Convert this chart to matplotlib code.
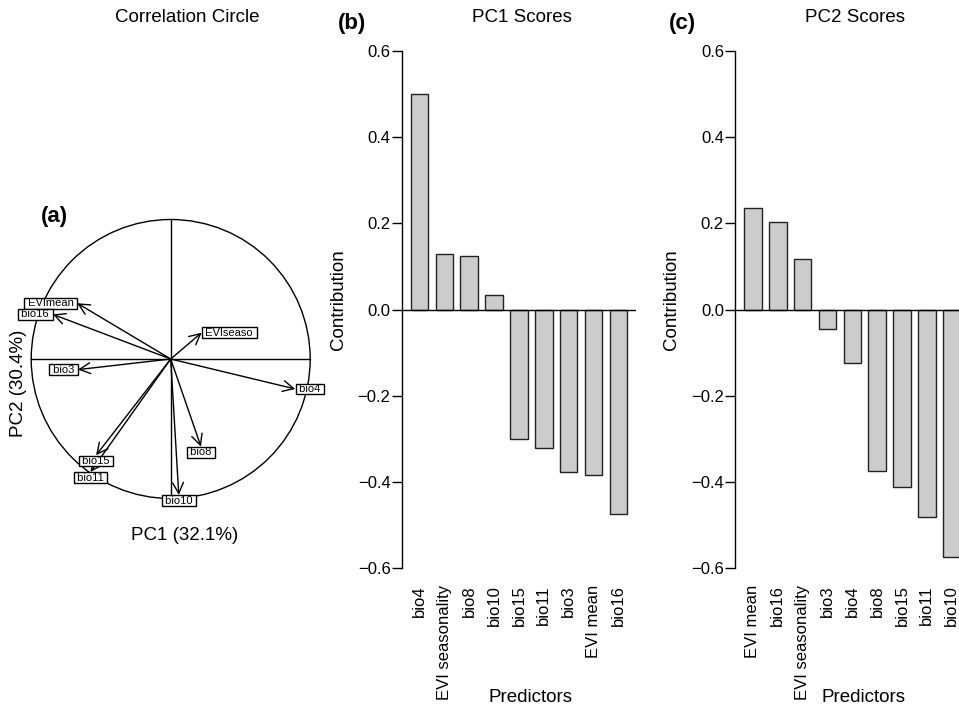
import numpy as np
import matplotlib
matplotlib.use('Agg')
import matplotlib.pyplot as plt
from matplotlib.patches import Circle


###################################
# Data
###################################

# correlation of each predictor with PC1 / PC2 (correlation circle)
circle_vars = ['EVImean', 'bio16', 'EVIseaso', 'bio3', 'bio4', 'bio8', 'bio10', 'bio15', 'bio11']
circle_pc1 = [-0.670, -0.845, 0.222, -0.665, 0.893, 0.217, 0.058, -0.535, -0.575]
circle_pc2 = [0.400, 0.320, 0.189, -0.076, -0.215, -0.628, -0.975, -0.690, -0.810]

# PC1 scores (sorted)
pc1_names = ['bio4', 'EVI seasonality', 'bio8', 'bio10', 'bio15', 'bio11', 'bio3', 'EVI mean', 'bio16']
pc1_scores = [0.500, 0.129, 0.125, 0.033, -0.301, -0.322, -0.376, -0.384, -0.473]

# PC2 scores (sorted)
pc2_names = ['EVI mean', 'bio16', 'EVI seasonality', 'bio3', 'bio4', 'bio8', 'bio15', 'bio11', 'bio10']
pc2_scores = [0.235, 0.202, 0.116, -0.046, -0.123, -0.375, -0.411, -0.482, -0.573]

pc1_var = 32.1
pc2_var = 30.4


plt.rcParams['font.family'] = ['Liberation Sans', 'DejaVu Sans']

W, H = 959, 708
fig = plt.figure(figsize=(W / 100, H / 100), dpi=100)


def px(x, y):
    # pixel position -> figure fraction
    return x / W, 1 - y / H


###################################
# (a) Correlation circle
###################################

cx, cy, r = 170.7, 359, 139.5      # circle centre and radius in pixels
lim = 1.2
half = lim * r
axa = fig.add_axes([(cx - half) / W, (H - cy - half) / H, 2 * half / W, 2 * half / H])
axa.set_xlim(-lim, lim)
axa.set_ylim(-lim, lim)
axa.set_aspect('equal')
axa.axis('off')

axa.add_patch(Circle((0, 0), 1, fill=False, color='black', lw=1))
axa.plot([-1, 1], [0, 0], color='black', lw=1)
axa.plot([0, 0], [-1, 1], color='black', lw=1)

for name, x, y in zip(circle_vars, circle_pc1, circle_pc2):
    axa.annotate('', xy=(x, y), xytext=(0, 0),
                 arrowprops=dict(arrowstyle='->,head_length=0.6,head_width=0.3',
                                 mutation_scale=13, lw=1, color='black',
                                 shrinkA=0, shrinkB=0))

# labels placed like ade4: beside the tip for mostly horizontal arrows,
# above/below the tip for mostly vertical ones
box = dict(boxstyle='square,pad=0.04', fc='white', ec='black', lw=1)
for name, x, y in zip(circle_vars, circle_pc1, circle_pc2):
    lab = ' ' + name + ' '
    if abs(x) >= abs(y):
        ha = 'left' if x > 0 else 'right'
        off = (0.5, 0) if x > 0 else (-0.5, 0)
        axa.annotate(lab, xy=(x, y), xytext=off, textcoords='offset points',
                     ha=ha, va='center', fontsize=8, bbox=box)
    else:
        va = 'bottom' if y > 0 else 'top'
        off = (0, 0.5) if y > 0 else (0, -0.5)
        axa.annotate(lab, xy=(x, y), xytext=off, textcoords='offset points',
                     ha='center', va=va, fontsize=8, bbox=box)

fig.text(*px(187.5, 17), 'Correlation Circle', ha='center', va='center', fontsize=13.5)
fig.text(*px(185, 536), 'PC1 (%.1f%%)' % pc1_var, ha='center', va='center', fontsize=13.5)
fig.text(*px(19, 383), 'PC2 (%.1f%%)' % pc2_var, ha='center', va='center',
         rotation=90, fontsize=13.5)
fig.text(*px(54, 217), '(a)', ha='center', va='center', fontsize=16, fontweight='bold')


###################################
# (b) and (c) Score barplots
###################################

ax_top, ax_bot = 50.7, 568.3
ax_w = 234.4


def score_panel(left_px, names, scores, title, letter, letter_x):
    ax = fig.add_axes([left_px / W, (H - ax_bot) / H, ax_w / W, (ax_bot - ax_top) / H])
    pos = np.arange(len(names))
    ax.bar(pos, scores, width=0.71, color='#cccccc', edgecolor='#222222', lw=1, zorder=2)
    ax.axhline(0, color='black', lw=1, zorder=3)

    ax.set_xlim(-0.72, 8.71)
    ax.set_ylim(-0.6, 0.6)
    for s in ['top', 'right', 'bottom']:
        ax.spines[s].set_visible(False)
    ax.spines['left'].set_bounds(-0.6, 0.6)
    ax.spines['left'].set_linewidth(1)
    ax.spines['left'].set_clip_on(False)

    ax.set_yticks([-0.6, -0.4, -0.2, 0.0, 0.2, 0.4, 0.6])
    ax.set_yticklabels(['\u22120.6', '\u22120.4', '\u22120.2', '0.0', '0.2', '0.4', '0.6'])
    ax.tick_params(axis='y', length=7, width=1, pad=1, labelsize=12)
    ax.set_xticks(pos)
    ax.set_xticklabels(names, rotation=90, va='top', ha='center')
    ax.tick_params(axis='x', length=0, pad=12, labelsize=12)

    ax.set_ylabel('Contribution', fontsize=13.5)
    ax.yaxis.set_label_coords(-0.235, 0.52)
    ax.text(0.55, (ax_bot - 698) / (ax_bot - ax_top), 'Predictors', transform=ax.transAxes,
            ha='center', va='center', fontsize=13.5)
    ax.text(0.512, (ax_bot - 18) / (ax_bot - ax_top), title, transform=ax.transAxes,
            ha='center', va='center', fontsize=13.5)
    fig.text(*px(letter_x, 24), letter, ha='center', va='center', fontsize=16, fontweight='bold')
    return ax


axb = score_panel(401.6, pc1_names, pc1_scores, 'PC1 Scores', '(b)', 352)
axc = score_panel(735, pc2_names, pc2_scores, 'PC2 Scores', '(c)', 682)

fig.savefig('out.png', dpi=100)
